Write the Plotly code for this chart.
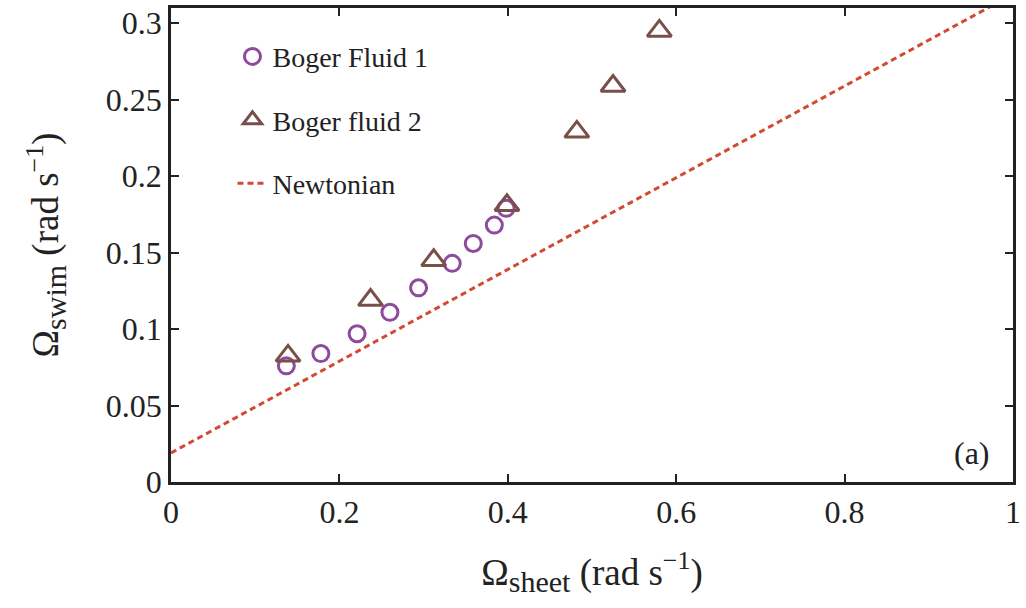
import plotly.graph_objects as go

# Data
bf1_x = [0.137, 0.178, 0.221, 0.260, 0.294, 0.334, 0.359, 0.384, 0.398]
bf1_y = [0.076, 0.084, 0.097, 0.111, 0.127, 0.143, 0.156, 0.168, 0.179]

bf2_x = [0.139, 0.237, 0.312, 0.399, 0.482, 0.525, 0.580]
bf2_y = [0.0825, 0.119, 0.145, 0.181, 0.229, 0.259, 0.295]

newt_x = [0.0, 1.0]
newt_y = [0.019, 0.319]

x_ticks = [0, 0.2, 0.4, 0.6, 0.8, 1]
x_ticklabels = ["0", "0.2", "0.4", "0.6", "0.8", "1"]
y_ticks = [0, 0.05, 0.1, 0.15, 0.2, 0.25, 0.3]
y_ticklabels = ["0", "0.05", "0.1", "0.15", "0.2", "0.25", "0.3"]

FONT = "Liberation Serif"
c_bf1 = "#8E4A9C"
c_bf2 = "#7A4F4A"
c_newt = "#D24A33"

fig = go.Figure()
fig.add_trace(go.Scatter(
    x=bf1_x, y=bf1_y, mode="markers", name="Boger Fluid 1", legendgroup="a",
    marker=dict(symbol="circle-open", size=16, color=c_bf1, line=dict(width=3, color=c_bf1)),
))
fig.add_trace(go.Scatter(
    x=bf2_x, y=bf2_y, mode="markers", name="Boger fluid 2", legendgroup="b",
    marker=dict(symbol="triangle-up-open", size=21, color=c_bf2, line=dict(width=3, color=c_bf2)),
))
fig.add_trace(go.Scatter(
    x=newt_x, y=newt_y, mode="lines", name="Newtonian", legendgroup="c",
    line=dict(color=c_newt, width=3, dash="6px,4px"),
))

axis_common = dict(
    showline=True, linecolor="#222222", linewidth=2.5, mirror="ticks",
    ticks="inside", ticklen=8, tickwidth=2, tickcolor="#222222",
    showgrid=False, zeroline=False,
    tickfont=dict(family=FONT, size=32, color="#222222"),
)

title_x = "Ω<sub><span style='font-size:30px'>sheet</span></sub> (rad s<sup>−1</sup>)"
title_y = "Ω<sub><span style='font-size:30px'>swim</span></sub> (rad s<sup>−1</sup>)"

fig.update_xaxes(
    range=[0, 1], tickvals=x_ticks, ticktext=x_ticklabels,
    title=dict(text=title_x, font=dict(family=FONT, size=37, color="#222222"), standoff=30),
    **axis_common,
)
fig.update_yaxes(
    range=[0, 0.31], tickvals=y_ticks, ticktext=y_ticklabels,
    title=dict(text=title_y, font=dict(family=FONT, size=37, color="#222222"), standoff=36),
    **axis_common,
)

fig.add_annotation(
    x=0.975, y=0.02, xref="x domain", yref="y domain", xanchor="right", yanchor="bottom",
    text="(a)", showarrow=False, font=dict(family=FONT, size=32, color="#222222"),
)

fig.update_layout(
    width=1026, height=608,
    margin=dict(l=171, r=7, t=5, b=126),
    paper_bgcolor="white", plot_bgcolor="white",
    showlegend=True,
    legend=dict(
        x=0.073, y=0.95, xanchor="left", yanchor="top",
        bgcolor="rgba(0,0,0,0)", borderwidth=0,
        font=dict(family=FONT, size=28, color="#222222"),
        traceorder="grouped", tracegroupgap=24, itemwidth=30,
    ),
)

fig.write_html("out.html")
